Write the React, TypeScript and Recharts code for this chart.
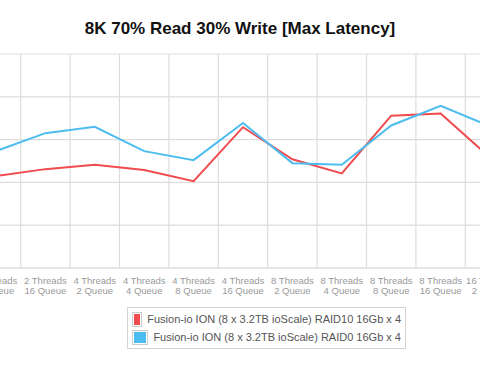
import React from "react";
import { LineChart, Line, XAxis, YAxis, CartesianGrid } from "recharts";

const threads = ["2", "2", "4", "4", "4", "4", "8", "8", "8", "8", "16"];
const queues = ["8", "16", "2", "4", "8", "16", "2", "4", "8", "16", "2"];
const raid10 = [21.5, 23.1, 24.1, 22.9, 20.3, 32.9, 25.4, 22.1, 35.6, 36.1, 25.8];
const raid0 = [27.3, 31.5, 33.0, 27.3, 25.2, 33.9, 24.5, 24.1, 33.3, 37.9, 33.1];
const yTicks = [0, 10, 20, 30, 40, 50];

const seriesNames = [
  "Fusion-io ION (8 x 3.2TB ioScale) RAID10 16Gb x 4",
  "Fusion-io ION (8 x 3.2TB ioScale) RAID0 16Gb x 4",
];
const seriesColors = ["#f04b4f", "#4dbdf0"];

const data = threads.map((t, i) => ({
  threads: t,
  queue: queues[i],
  label: `${t}T${queues[i]}Q`,
  raid10: raid10[i],
  raid0: raid0[i],
}));

const FONT = '"Liberation Sans", Arial, Helvetica, sans-serif';

const TwoLineTick = (props: any) => {
  const { x, y, payload } = props;
  const row = data[payload.index];
  if (!row) return null;
  return (
    <g transform={`translate(${x},${y})`}>
      <text textAnchor="middle" fill="#999" fontSize={9.5} fontFamily={FONT}>
        <tspan x={0} dy={7.5}>{`${row.threads} Threads`}</tspan>
        <tspan x={0} dy={10.5}>{`${row.queue} Queue`}</tspan>
      </text>
    </g>
  );
};

const LegendBox = () => (
  <div
    style={{
      position: "absolute",
      left: 127,
      top: 307,
      width: 279,
      boxSizing: "border-box",
      border: "1px solid #d4d4d4",
      padding: "2px 4px",
      fontFamily: FONT,
      fontSize: 11,
      color: "#555",
      background: "#fff",
      whiteSpace: "nowrap",
    }}
  >
    {seriesNames.map((name, i) => (
      <div key={name} style={{ display: "flex", alignItems: "center", height: 18 }}>
        <span
          style={{
            display: "inline-block",
            width: 13,
            height: 11,
            border: "1px solid #ccc",
            padding: 1,
            marginRight: 5,
            background: seriesColors[i],
            backgroundClip: "content-box",
          }}
        />
        <span>{name}</span>
      </div>
    ))}
  </div>
);

const App = () => {
  const n = data.length;
  return (
    <div
      style={{
        position: "absolute",
        left: 0,
        top: 0,
        width: 480,
        height: 372,
        overflow: "hidden",
        background: "#fff",
      }}
    >
      <div
        style={{
          position: "absolute",
          left: 0,
          top: 19,
          width: 480,
          textAlign: "center",
          fontFamily: FONT,
          fontWeight: "bold",
          fontSize: 17,
          color: "#111",
        }}
      >
        8K 70% Read 30% Write [Max Latency]
      </div>
      <div style={{ position: "absolute", left: -40, top: 0 }}>
        <LineChart
          width={600}
          height={372}
          data={data}
          margin={{ top: 54, right: 45.25, bottom: 74, left: 11.25 }}
        >
          <CartesianGrid
            stroke="#dddddd"
            strokeWidth={1.2}
            verticalCoordinatesGenerator={({ offset }: any) =>
              Array.from({ length: n + 1 }, (_, i) => offset.left + (i * offset.width) / n)
            }
          />
          <XAxis
            dataKey="label"
            scale="band"
            interval={0}
            height={30}
            tickLine={false}
            axisLine={{ stroke: "#dddddd" }}
            tick={<TwoLineTick />}
          />
          <YAxis hide domain={[0, 50]} ticks={yTicks} />
          <Line
            dataKey="raid10"
            name={seriesNames[0]}
            stroke={seriesColors[0]}
            strokeWidth={2}
            dot={false}
            isAnimationActive={false}
          />
          <Line
            dataKey="raid0"
            name={seriesNames[1]}
            stroke={seriesColors[1]}
            strokeWidth={2}
            dot={false}
            isAnimationActive={false}
          />
        </LineChart>
      </div>
      <LegendBox />
    </div>
  );
};

export default App;
